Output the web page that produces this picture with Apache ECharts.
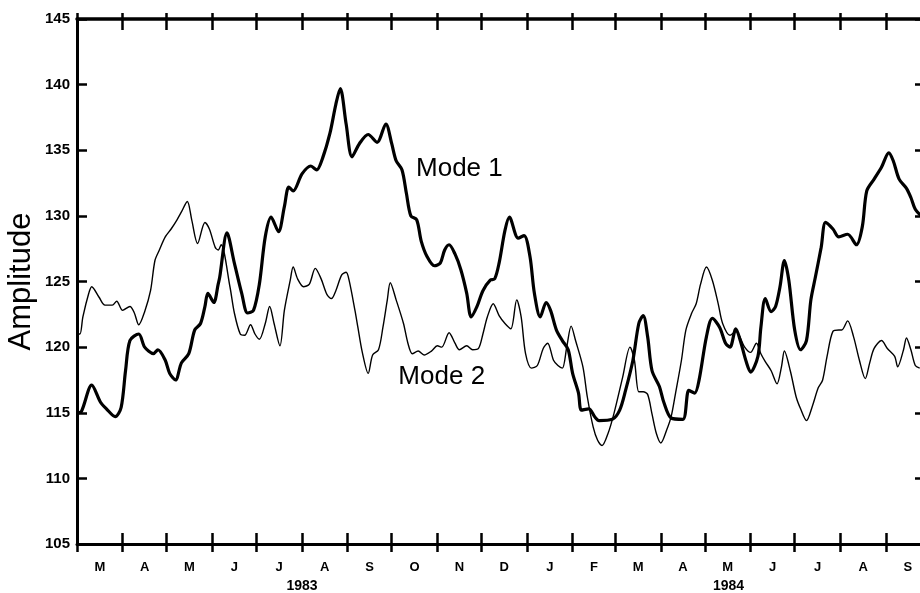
<!DOCTYPE html>
<html>
<head>
<meta charset="utf-8">
<script src="https://cdn.jsdelivr.net/npm/echarts@6/dist/echarts.min.js"></script>
<style>
  html, body { margin: 0; padding: 0; background: #fff; }
  #chart { width: 920px; height: 593px; }
</style>
</head>
<body>
<div id="chart"></div>
<script>
// Days counted from 1 March 1983; month boundaries up to 1 October 1984.
const monthStarts = [0, 31, 61, 92, 122, 153, 184, 214, 245, 275, 306, 337, 366, 397, 427, 458, 488, 519, 550, 580];
const monthLetters = ['M', 'A', 'M', 'J', 'J', 'A', 'S', 'O', 'N', 'D', 'J', 'F', 'M', 'A', 'M', 'J', 'J', 'A', 'S'];
const yearLabels = ['1983', '1984'];
const yearDays = [153, 443];

const yTicks = [105, 110, 115, 120, 125, 130, 135, 140, 145];

// Mode 1 amplitude
const mode1Days = [0, 3, 10, 16, 20, 26, 30, 33, 36, 42, 46, 52, 55, 60, 63, 67, 71, 76, 80, 84, 87, 89, 93, 96, 97,
  102, 107, 112, 116, 120, 124, 128, 132, 137, 141, 144, 147, 153, 159, 163, 167, 172, 176, 179, 183, 187, 192, 198,
  204, 210, 214, 217, 221, 224, 227, 231, 234, 238, 243, 247, 250, 253, 257, 261, 265, 268, 272, 276, 281, 284, 287,
  291, 294, 300, 304, 308, 311, 315, 319, 322, 326, 330, 334, 337, 341, 343, 348, 352, 355, 364, 369, 373, 378, 382,
  385, 388, 391, 396, 399, 404, 412, 416, 420, 423, 428, 432, 437, 441, 444, 448, 451, 455, 458, 463, 465, 468, 472,
  475, 478, 481, 484, 488, 492, 496, 499, 502, 506, 509, 514, 518, 524, 530, 534, 537, 542, 547, 552, 555, 559, 564,
  567, 570, 574];
const mode1Vals = [115.0, 115.1, 117.1, 115.8, 115.3, 114.7, 115.4, 118.2, 120.5, 121.0, 120.0, 119.5, 119.8, 119.0,
  118.0, 117.5, 118.8, 119.5, 121.3, 121.8, 123.1, 124.1, 123.4, 124.8, 125.3,
  128.7, 126.4, 124.1, 122.6, 122.8, 124.8, 128.4, 129.9, 128.8, 130.7, 132.2, 131.9, 133.2, 133.8, 133.5, 134.4,
  136.3, 138.5, 139.7, 137.0, 134.5, 135.5, 136.2,
  135.6, 137.0, 135.5, 134.2, 133.5, 131.7, 130.0, 129.7, 128.1, 126.9, 126.2, 126.4, 127.4, 127.8, 127.1, 125.9,
  124.1, 122.3, 123.1, 124.3, 125.1, 125.2, 126.4,
  128.9, 129.9, 128.3, 128.5, 126.9, 124.1, 122.3, 123.4, 122.8, 121.3, 120.5, 119.8, 118.0, 116.5, 115.2, 115.3,
  114.7, 114.4, 114.5, 115.2, 116.7, 119.0, 121.8,
  122.4, 120.8, 118.2, 117.0, 115.8, 114.6, 114.5, 116.7, 116.5, 117.5, 120.8, 122.2, 121.5, 120.3, 120.0, 121.4,
  120.5, 118.9, 118.1, 119.3, 121.5, 123.7, 122.7,
  123.1, 124.6, 126.6, 125.1, 121.3, 119.8, 120.5, 123.6, 125.3, 127.6, 129.5, 129.0, 128.4, 128.6, 127.8, 129.2,
  131.9, 132.8, 133.7, 134.8, 134.2, 132.8, 132.1,
  131.4, 130.5, 130.0];

// Mode 2 amplitude
const mode2Days = [0, 2, 4, 8, 10, 15, 19, 24, 27, 31, 36, 39, 42, 46, 50, 53, 56, 60, 64, 68, 71, 75, 78, 82, 87, 90,
  94, 96, 98, 104, 107, 111, 114, 118, 121, 124, 128, 131, 134, 138, 141, 145, 147, 150, 154, 158, 162, 166, 170, 173,
  176, 180, 183, 185, 189, 191, 194, 198, 201, 205, 208, 211, 213, 217, 222, 225, 228, 232, 236, 241, 245, 248, 253,
  257, 260, 265, 269, 273, 276, 279, 283, 287, 291, 295, 299, 302, 305, 309, 313, 317, 320, 324, 327, 330, 333, 336,
  339, 344, 347, 351, 354, 357, 361, 365, 371, 376, 379, 382, 385, 388, 391, 394, 397, 401, 404, 407, 411, 414, 418,
  421, 424, 428, 432, 436, 439, 444, 448, 454, 458, 462, 465, 468, 472, 476, 479, 481, 485, 489, 492, 496, 500, 504,
  507, 510, 514, 518, 520, 524, 528, 532, 536, 539, 542, 547, 551, 556, 558, 562, 564, 567, 570, 573];
const mode2Vals = [121.0, 121.0, 122.3, 124.1, 124.6, 123.8, 123.2, 123.2, 123.5, 122.8, 123.1, 122.6, 121.7, 122.7,
  124.3, 126.6, 127.4, 128.4, 129.0, 129.7, 130.3, 131.1, 129.7, 127.9, 129.5, 129.0,
  127.6, 127.4, 127.8, 124.6, 122.6, 121.0, 120.9, 121.7, 121.0, 120.6, 121.8, 123.1, 121.8, 120.1, 122.8, 125.1,
  126.1, 125.2, 124.6, 124.8, 126.0, 125.2, 124.0, 123.7,
  124.3, 125.5, 125.7, 125.1, 122.8, 121.5, 119.6, 118.0, 119.4, 119.8, 121.5, 123.6, 124.9, 123.6, 121.8, 120.3,
  119.5, 119.7, 119.4, 119.7, 120.1, 120.0, 121.1,
  120.3, 119.8, 120.1, 119.8, 119.9, 121.0, 122.3, 123.3, 122.4, 121.8, 121.4, 123.6, 122.3, 119.5, 118.4, 118.6,
  119.9, 120.3, 119.0, 118.6, 118.4, 120.0, 121.6,
  120.5, 118.5, 116.2, 113.9, 112.9, 112.5, 113.4, 114.9, 117.7, 120.0, 119.0, 116.6, 116.6, 116.4, 114.9, 113.4,
  112.7, 113.7, 114.7, 116.5, 119.0, 121.3, 122.6,
  123.3, 124.8, 126.1, 125.1, 123.3, 121.8, 120.9, 121.2, 120.0, 119.6, 120.3, 119.5, 118.9, 118.2, 117.2, 118.5,
  119.7, 118.2, 116.2, 115.3, 114.4, 115.5, 116.9,
  117.5, 119.3, 121.2, 121.3, 121.3, 122.0, 120.8, 119.0, 117.6, 118.8, 119.9, 120.5, 119.9, 119.3, 118.5, 119.8,
  120.7, 119.8, 118.6, 118.4];

// Where the two series names sit (day, amplitude)
const mode1LabelAt = [260, 133.6];
const mode2LabelAt = [248, 117.7];

const monthMids = monthLetters.map((_, i) => (monthStarts[i] + monthStarts[i + 1]) / 2);
const pairs = (days, vals) => days.map((d, i) => [d, vals[i]]);

const FONT = '"Liberation Sans", Arial, Helvetica, sans-serif';
const X_MIN = monthStarts[0];
const X_MAX = monthStarts[monthStarts.length - 1];

function xAxisBase(extra) {
  return Object.assign({
    type: 'value', min: X_MIN, max: X_MAX, gridIndex: 0,
    splitLine: { show: false },
    axisLine: { show: false },
    axisTick: { show: false },
    axisLabel: { show: false }
  }, extra);
}

const chart = echarts.init(document.getElementById('chart'), null, { renderer: 'canvas' });

chart.setOption({
  animation: false,
  backgroundColor: '#ffffff',
  // the frame runs on to 1 October 1984, a little past the right edge of the page
  grid: { left: 77, top: 19, width: 853, height: 525, containLabel: false, outerBoundsMode: 'none' },
  xAxis: [
    // bottom frame line with inward ticks
    xAxisBase({
      position: 'bottom',
      axisLine: { show: true, onZero: false, lineStyle: { color: '#000', width: 3 } },
      axisTick: { show: true, inside: true, length: 11, customValues: monthStarts, lineStyle: { color: '#000', width: 2.5 } }
    }),
    // bottom outward tick stubs and month letters
    xAxisBase({
      position: 'bottom',
      axisTick: { show: true, inside: false, length: 8, customValues: monthStarts, lineStyle: { color: '#000', width: 2.5 } },
      axisLabel: {
        show: true, customValues: monthMids, margin: 17,
        fontFamily: FONT, fontWeight: 'bold', fontSize: 13, color: '#000',
        formatter: v => {
          const i = monthMids.findIndex(m => Math.abs(m - v) < 0.01);
          return i >= 0 ? monthLetters[i] : '';
        }
      }
    }),
    // year captions
    xAxisBase({
      position: 'bottom',
      axisLabel: {
        show: true, customValues: yearDays, margin: 35,
        fontFamily: FONT, fontWeight: 'bold', fontSize: 14, color: '#000',
        formatter: v => {
          const i = yearDays.indexOf(v);
          return i >= 0 ? yearLabels[i] : '';
        }
      }
    }),
    // top frame line with inward ticks
    xAxisBase({
      position: 'top',
      axisLine: { show: true, onZero: false, lineStyle: { color: '#000', width: 3.5 } },
      axisTick: { show: true, inside: true, length: 11, customValues: monthStarts, lineStyle: { color: '#000', width: 2.5 } }
    }),
    // top outward tick stubs
    xAxisBase({
      position: 'top',
      axisTick: { show: true, inside: false, length: 6, customValues: monthStarts, lineStyle: { color: '#000', width: 2.5 } }
    })
  ],
  yAxis: [
    {
      type: 'value', min: yTicks[0], max: yTicks[yTicks.length - 1], interval: 5,
      position: 'left',
      name: 'Amplitude', nameLocation: 'middle', nameRotate: 90, nameGap: 40, nameMoveOverlap: false,
      nameTextStyle: { fontFamily: FONT, fontSize: 31, color: '#000' },
      splitLine: { show: false },
      axisLine: { show: true, onZero: false, lineStyle: { color: '#000', width: 3 } },
      axisTick: { show: true, inside: true, length: 10, lineStyle: { color: '#000', width: 2.5 } },
      axisLabel: { margin: 7, fontFamily: FONT, fontWeight: 'bold', fontSize: 15, color: '#000' }
    },
    {
      type: 'value', min: yTicks[0], max: yTicks[yTicks.length - 1], interval: 5,
      position: 'right',
      splitLine: { show: false },
      axisLine: { show: true, onZero: false, lineStyle: { color: '#000', width: 3 } },
      axisTick: { show: true, inside: true, length: 15, lineStyle: { color: '#000', width: 2.5 } },
      axisLabel: { show: false }
    }
  ],
  series: [
    {
      name: 'Mode 1', type: 'line', xAxisIndex: 0, yAxisIndex: 0,
      data: pairs(mode1Days, mode1Vals),
      showSymbol: false, symbol: 'none', smooth: 0.3,
      lineStyle: { color: '#000', width: 3.2 },
      markPoint: {
        symbol: 'circle', symbolSize: 0, silent: true,
        label: { show: true, position: 'inside', formatter: 'Mode 1', fontFamily: FONT, fontSize: 26, color: '#000' },
        data: [{ coord: mode1LabelAt }]
      },
      z: 3
    },
    {
      name: 'Mode 2', type: 'line', xAxisIndex: 0, yAxisIndex: 0,
      data: pairs(mode2Days, mode2Vals),
      showSymbol: false, symbol: 'none', smooth: 0.3,
      lineStyle: { color: '#000', width: 1.4 },
      markPoint: {
        symbol: 'circle', symbolSize: 0, silent: true,
        label: { show: true, position: 'inside', formatter: 'Mode 2', fontFamily: FONT, fontSize: 26, color: '#000' },
        data: [{ coord: mode2LabelAt }]
      },
      z: 2
    }
  ]
});
</script>
</body>
</html>
